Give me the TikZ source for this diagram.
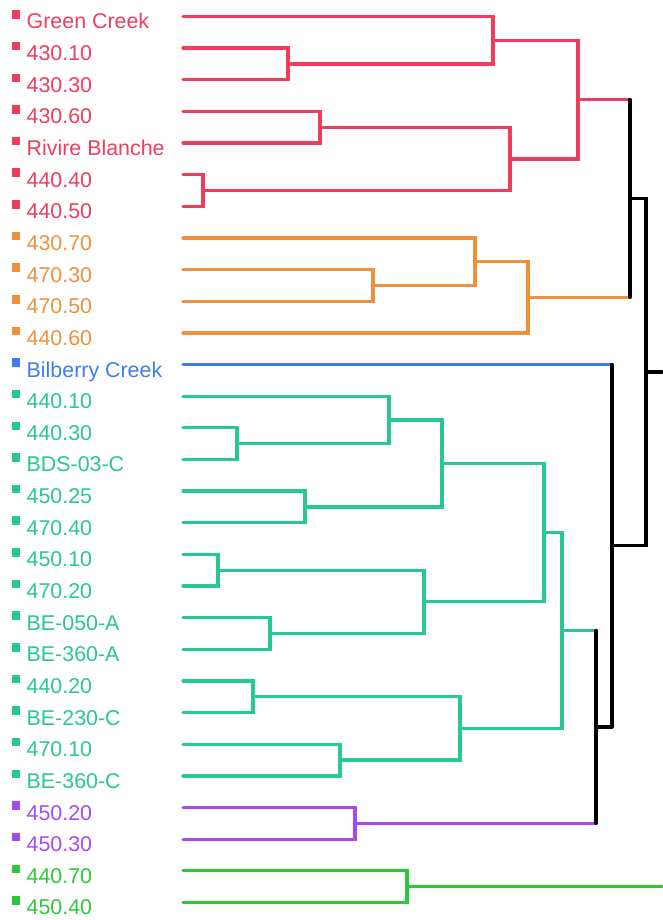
\documentclass[tikz,border=0pt]{standalone}
\usepackage{fontspec}
\setmainfont{Liberation Sans}
\usetikzlibrary{calc}
\definecolor{cred}{HTML}{F03D5E}
\definecolor{corange}{HTML}{EE913A}
\definecolor{cblue}{HTML}{3D7EEC}
\definecolor{cteal}{HTML}{27C796}
\definecolor{cpurple}{HTML}{A64AF0}
\definecolor{cgreen}{HTML}{2BC937}
\newcommand\mrg[4]{\coordinate (#1m) at ($(#2)!0.5!(#3)$); \coordinate (#1) at (#1m -| #4,0);}
\newcommand\brk[4]{\draw[br,#4] (#2) -| (#1) |- (#3);}
\newcommand\brkx[6]{\draw[br,#4] (#2) -- (#2 -| #1); \draw[br,#5] (#3) -- (#3 -| #1); \draw[br,#6] (#2 -| #1) -- (#3 -| #1);}
\begin{document}
\begin{tikzpicture}[x=1pt,y=-1pt,
  br/.style={line width=3.3pt, line cap=round},
  lbl/.style={anchor=base west, inner sep=0pt, font=\fontsize{21.4}{25}\selectfont},
  mk/.style={minimum size=8.5pt, inner sep=0pt}]
\useasboundingbox (0,0) rectangle (662,920);
\foreach \i/\t/\c in {0/Green Creek/cred, 1/430.10/cred, 2/430.30/cred, 3/430.60/cred,
  4/Rivire Blanche/cred, 5/440.40/cred, 6/440.50/cred,
  7/430.70/corange, 8/470.30/corange, 9/470.50/corange, 10/440.60/corange,
  11/Bilberry Creek/cblue,
  12/440.10/cteal, 13/440.30/cteal, 14/BDS-03-C/cteal, 15/450.25/cteal, 16/470.40/cteal,
  17/450.10/cteal, 18/470.20/cteal, 19/BE-050-A/cteal, 20/BE-360-A/cteal, 21/440.20/cteal,
  22/BE-230-C/cteal, 23/470.10/cteal, 24/BE-360-C/cteal,
  25/450.20/cpurple, 26/450.30/cpurple,
  27/440.70/cgreen, 28/450.40/cgreen} {
  \pgfmathsetmacro\yy{16.5+31.64*\i}
  \coordinate (L\i) at (183,\yy);
  \node[lbl, text=\c] (T\i) at (26.5,{\yy+12.5}) {\t};
  \node[mk, fill=\c] (S\i) at (16,{\yy-2}) {};
}
% red
\mrg{r1}{L1}{L2}{288} \brk{r1}{L1}{L2}{cred}
\mrg{r2}{L0}{r1}{493} \brk{r2}{L0}{r1}{cred}
\mrg{r3}{L3}{L4}{320} \brk{r3}{L3}{L4}{cred}
\mrg{r4}{L5}{L6}{203} \brk{r4}{L5}{L6}{cred}
\mrg{r5}{r3}{r4}{510} \brk{r5}{r3}{r4}{cred}
\mrg{r6}{r2}{r5}{578} \brk{r6}{r2}{r5}{cred}
% orange
\mrg{o1}{L8}{L9}{373} \brk{o1}{L8}{L9}{corange}
\mrg{o2}{L7}{o1}{475} \brk{o2}{L7}{o1}{corange}
\mrg{o3}{o2}{L10}{528} \brk{o3}{o2}{L10}{corange}
% teal
\mrg{t1}{L13}{L14}{237} \brk{t1}{L13}{L14}{cteal}
\mrg{t2}{L12}{t1}{389} \brk{t2}{L12}{t1}{cteal}
\mrg{t3}{L15}{L16}{305} \brk{t3}{L15}{L16}{cteal}
\mrg{t4}{t2}{t3}{442} \brk{t4}{t2}{t3}{cteal}
\mrg{t5}{L17}{L18}{218} \brk{t5}{L17}{L18}{cteal}
\mrg{t6}{L19}{L20}{270} \brk{t6}{L19}{L20}{cteal}
\mrg{t7}{t5}{t6}{424} \brk{t7}{t5}{t6}{cteal}
\mrg{t8}{t4}{t7}{544} \brk{t8}{t4}{t7}{cteal}
\mrg{t9}{L21}{L22}{253} \brk{t9}{L21}{L22}{cteal}
\mrg{t10}{L23}{L24}{340} \brk{t10}{L23}{L24}{cteal}
\mrg{t11}{t9}{t10}{460} \brk{t11}{t9}{t10}{cteal}
\mrg{t12}{t8}{t11}{562} \brk{t12}{t8}{t11}{cteal}
% purple
\mrg{p1}{L25}{L26}{355} \brk{p1}{L25}{L26}{cpurple}
% green
\mrg{g1}{L27}{L28}{407} \brk{g1}{L27}{L28}{cgreen}
% black joins
\mrg{k1}{r6}{o3}{630} \brkx{k1}{r6}{o3}{cred}{corange}{black}
\mrg{k2}{t12}{p1}{596} \brkx{k2}{t12}{p1}{cteal}{cpurple}{black}
\mrg{k3}{L11}{k2}{612} \brkx{k3}{L11}{k2}{cblue}{black}{black}
\mrg{k4}{k1}{k3}{646} \brk{k4}{k1}{k3}{black}
\coordinate (e1) at (k4 -| 662,0);
\coordinate (e2) at (g1 -| 662,0);
\draw[br] (k4) -- (e1);
\draw[br,cgreen] (g1) -- (e2);
\end{tikzpicture}
\end{document}
